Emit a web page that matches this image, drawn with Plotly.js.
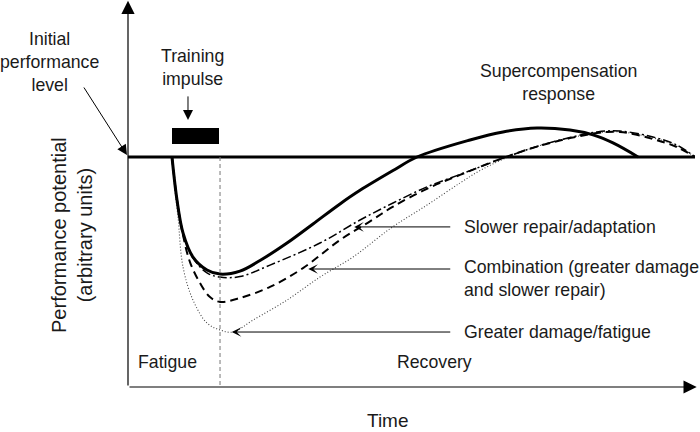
<!DOCTYPE html>
<html>
<head>
<meta charset="utf-8">
<script src="https://cdn.plot.ly/plotly-3.0.1.min.js"></script>
<style>html,body{margin:0;padding:0;background:#fff;}#chart{width:700px;height:432px;}</style>
</head>
<body>
<div id="chart"></div>
<script>
// ---- data (arbitrary units: time 0..100, performance relative to initial level = 0) ----
const baselineTime = [0, 100];
const baselinePerf = [0, 0];

const normalTime = [7.76, 8.64, 9.70, 11.46, 13.93, 16.23, 19.75, 23.28, 28.04, 32.63, 37.39, 40.92, 46.74, 50.97, 60.32, 66.14, 72.13, 77.95, 82.01, 85.54, 89.95];
const normalPerf = [0, -18.7, -33.0, -43.5, -49.1, -50.9, -49.6, -45.0, -37.4, -29.1, -20.4, -14.5, -5.9, 0, 7.4, 10.9, 12.6, 11.7, 9.6, 6.1, 0];

const slowerTime = [7.76, 8.64, 9.70, 11.46, 13.93, 16.23, 19.75, 25.04, 33.86, 40.92, 46.74, 52.73, 58.55, 62.08, 65.61, 72.13, 77.95, 82.72, 86.77, 92.59, 96.83, 100];
const slowerPerf = [0, -18.7, -33.0, -43.9, -50.4, -52.2, -52.0, -47.0, -37.4, -27.4, -20.0, -13.0, -7.6, -4.3, -1.0, 4.6, 8.5, 10.9, 11.3, 8.7, 5.2, 0];

const comboTime = [7.76, 8.64, 9.70, 10.93, 12.70, 14.46, 16.23, 19.75, 25.04, 30.86, 37.39, 42.68, 46.74, 52.73, 58.55, 65.61, 72.13, 77.95, 82.72, 86.77, 92.59, 96.83, 100];
const comboPerf = [0, -18.7, -33.9, -45.7, -54.8, -60.9, -63.0, -61.3, -56.5, -48.3, -36.1, -28.0, -21.6, -13.8, -7.8, -0.9, 4.5, 8.2, 10.4, 10.9, 7.8, 4.3, 0];

const damageTime = [7.76, 8.29, 8.82, 9.70, 11.46, 13.93, 16.23, 18.52, 22.05, 28.04, 33.86, 39.68, 46.38, 52.73, 58.55, 62.08, 66.14, 72.13, 77.95, 82.72, 86.77, 92.59, 96.83, 100];
const damagePerf = [0, -14.3, -26.1, -47.8, -62.2, -72.2, -75.2, -76.1, -70.9, -62.2, -52.2, -43.5, -30.9, -20.9, -11.3, -5.9, -1.0, 4.6, 8.3, 10.4, 10.9, 8.3, 4.8, 0];

const impulseTime = [7.76, 16.05];   // training impulse duration
const phaseBoundary = 16.23;         // end of fatigue phase

const labels = {
  initial: "Initial<br>performance<br>level",
  impulse: "Training<br>impulse",
  supercomp: "Supercompensation<br>response",
  slower: "Slower repair/adaptation",
  combo: "Combination (greater damage<br>and slower repair)",
  damage: "Greater damage/fatigue",
  fatigue: "Fatigue",
  recovery: "Recovery",
  xTitle: "Time",
  yTitle: "Performance potential<br>(arbitrary units)"
};

// ---- drawing ----
const FONT = "Liberation Sans, Arial, sans-serif";
const TXT = "#1a1a1a";
const yTop = 68.26, yBot = -100;

const traces = [
  {x: baselineTime, y: baselinePerf, mode: "lines", line: {color: "#000", width: 3}, hoverinfo: "skip"},
  {x: damageTime, y: damagePerf, mode: "lines", line: {color: "#444", width: 1.1, dash: "1px,2px", shape: "spline", smoothing: 1}, hoverinfo: "skip"},
  {x: comboTime, y: comboPerf, mode: "lines", line: {color: "#000", width: 2, dash: "8px,5px", shape: "spline", smoothing: 1}, hoverinfo: "skip"},
  {x: slowerTime, y: slowerPerf, mode: "lines", line: {color: "#000", width: 1.5, dash: "9px,3px,2px,3px", shape: "spline", smoothing: 1}, hoverinfo: "skip"},
  {x: normalTime, y: normalPerf, mode: "lines", line: {color: "#000", width: 3, shape: "spline", smoothing: 1}, hoverinfo: "skip"}
];

function txt(text, x, y, opts) {
  return Object.assign({text: text, x: x, y: y, xref: "x", yref: "y", showarrow: false,
    font: {family: FONT, size: 17.7, color: TXT}, xanchor: "center", yanchor: "middle", align: "center"}, opts || {});
}
function arrow(x, y, ax, ay, opts) {
  return Object.assign({text: "", x: x, y: y, ax: ax, ay: ay, xref: "x", yref: "y", axref: "x", ayref: "y",
    showarrow: true, arrowhead: 3, arrowsize: 1.6, arrowwidth: 1, arrowcolor: "#000", standoff: 0, startstandoff: 0}, opts || {});
}

const annotations = [
  // axes
  arrow(0, 67.9, 0, yBot, {arrowhead: 2, arrowsize: 2.2, arrowwidth: 1.2}),
  arrow(100.3, yBot, 0, yBot, {arrowhead: 2, arrowsize: 2.2, arrowwidth: 1.2}),
  // initial level (outside the plot area -> paper coordinates)
  txt(labels.initial, -0.1393, 0.8398, {xref: "paper", yref: "paper"}),
  {text: "", xref: "paper", yref: "paper", x: -0.0018, y: 0.5995, axref: "pixel", ayref: "pixel", ax: -44, ay: -69,
   showarrow: true, arrowhead: 2, arrowsize: 2, arrowwidth: 1, arrowcolor: "#000", standoff: 0},
  // training impulse
  txt(labels.impulse, 11.46, 39.1),
  arrow(10.58, 16.1, 10.58, 27.0, {arrowhead: 2, arrowsize: 2}),
  // supercompensation
  txt(labels.supercomp, 75.84, 32.6),
  // responses
  txt(labels.slower, 58.9, -30.4, {xanchor: "left", align: "left"}),
  arrow(39.9, -30.4, 57.1, -30.4),
  txt(labels.combo, 58.9, -53.0, {xanchor: "left", align: "left"}),
  arrow(31.8, -48.7, 57.1, -48.7),
  txt(labels.damage, 58.9, -76.1, {xanchor: "left", align: "left"}),
  arrow(18.3, -76.1, 57.1, -76.1),
  // phases
  txt(labels.fatigue, 7.05, -89.1),
  txt(labels.recovery, 54.1, -89.1),
  // axis titles (paper coordinates)
  txt(labels.xTitle, 0.4586, -0.0853, {xref: "paper", yref: "paper", font: {family: FONT, size: 19, color: TXT}}),
  txt(labels.yTitle, -0.0988, 0.3928, {xref: "paper", yref: "paper", textangle: -90, font: {family: FONT, size: 20, color: TXT}})
];

const shapes = [
  {type: "rect", xref: "x", yref: "y", x0: impulseTime[0], x1: impulseTime[1], y0: 5.65, y1: 12.6,
   fillcolor: "#000", line: {width: 0}},
  {type: "line", xref: "x", yref: "y", x0: phaseBoundary, x1: phaseBoundary, y0: 0, y1: yBot,
   line: {color: "#777", width: 1, dash: "4px,3px"}}
];

const layout = {
  width: 700, height: 432,
  margin: {l: 128, r: 5, t: 0, b: 45, pad: 0},
  paper_bgcolor: "#fff", plot_bgcolor: "#fff",
  showlegend: false,
  xaxis: {range: [0, 100], visible: false, fixedrange: true},
  yaxis: {range: [yBot, yTop], visible: false, fixedrange: true},
  annotations: annotations,
  shapes: shapes
};

traces.forEach(t => { t.cliponaxis = false; });

Plotly.newPlot("chart", traces, layout, {staticPlot: true, displayModeBar: false});
</script>
</body>
</html>
